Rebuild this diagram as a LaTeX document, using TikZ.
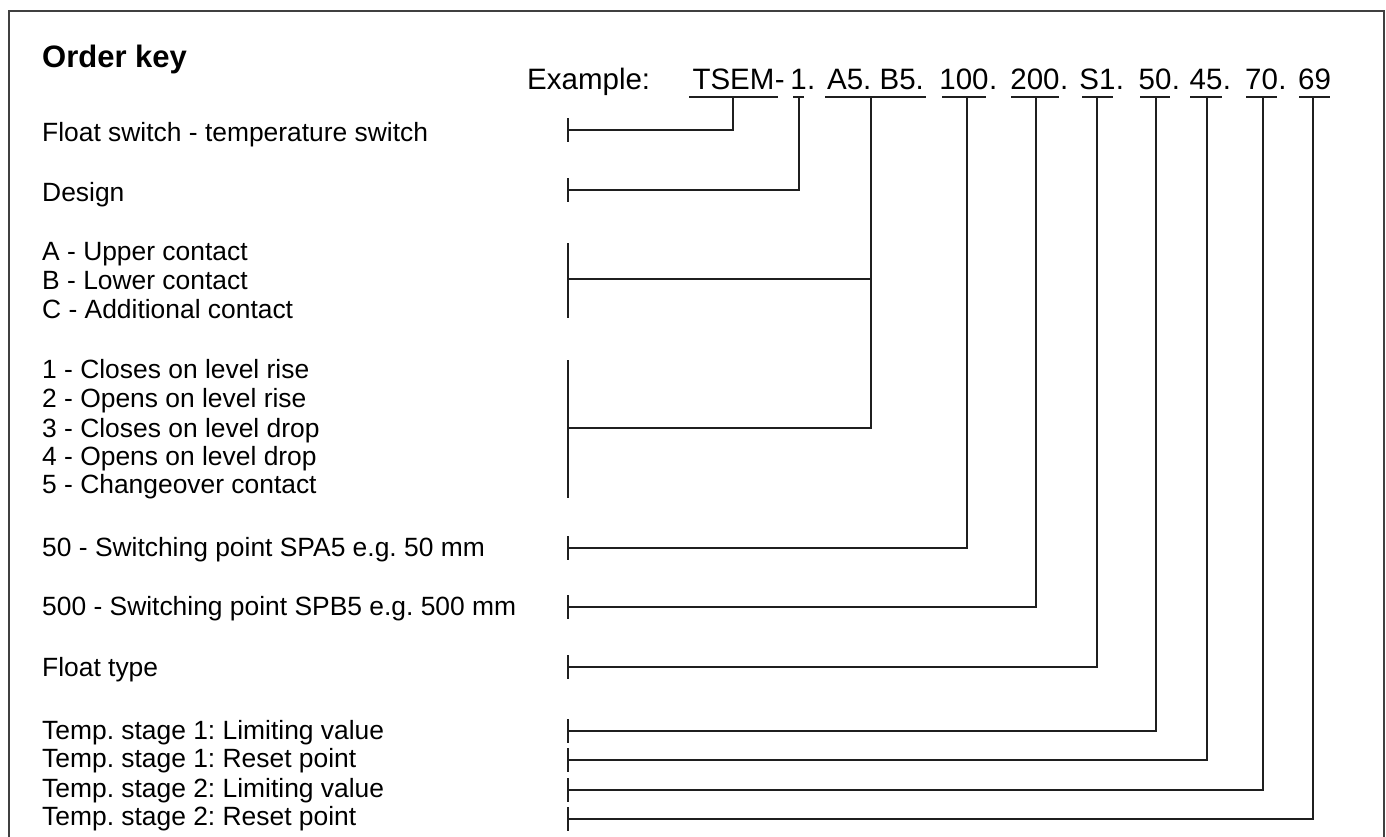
\documentclass[tikz,border=0pt]{standalone}
\usepackage{fontspec}
\setmainfont{Liberation Sans}
\usetikzlibrary{calc}
\begin{document}
\frenchspacing
\begin{tikzpicture}[x=1pt,y=-1pt,
  lbl/.style={anchor=base west, inner sep=0pt, font=\fontsize{26.4}{30}\selectfont},
  code/.style={anchor=base, inner sep=0pt, font=\fontsize{29.5}{34}\selectfont},
  sep/.style={anchor=base west, inner sep=0pt, font=\fontsize{29.5}{34}\selectfont},
  title/.style={anchor=base west, inner sep=0pt, font=\fontsize{31}{36}\selectfont\bfseries},
  conn/.style={line width=2pt, color=black!88},
  uline/.style={line width=2pt, color=black!88},
  frame/.style={line width=1.6pt, color=black!75}]
\useasboundingbox (0,0) rectangle (1386,836);
\draw[frame] (9,860) -- (9,11) -- (1384,11) -- (1384,860);

% title and example
\node[title] (title) at (42,67) {Order key};
\node[sep] (ex) at (527,89) {Example:};

% underline coordinates (left end, right end, connector point)
\foreach \t/\a/\b/\m in {tsem/689/778/733, one/793/804/799, ab/825/926/871,
  hun/942/986/967, two/1011/1059/1036, sone/1082/1113/1097, fifty/1140/1170/1156,
  ff/1190/1222/1207, seventy/1246/1277/1263, sn/1299/1330/1313}{
  \coordinate (\t-a) at (\a,97);
  \coordinate (\t-b) at (\b,97);
  \coordinate (\t-u) at (\m,97);
}

\node[code] (tsem) at ($(tsem-a)!0.5!(tsem-b)+(0,-8)$) {TSEM};
\node[sep] (dash) at (tsem.base east) {-};
\node[code] (one) at ($(one-a)!0.5!(one-b)+(0,-8)$) {1};
\node[sep] (p1) at (one.base east) {.};
\node[code] (ab) at ($(ab-a)!0.5!(ab-b)+(0,-8)$) {A5. B5.};
\node[code] (hun) at ($(hun-a)!0.5!(hun-b)+(0,-8)$) {100};
\node[sep] (p2) at (hun.base east) {.};
\node[code] (two) at ($(two-a)!0.5!(two-b)+(0,-8)$) {200};
\node[sep] (p3) at (two.base east) {.};
\node[code] (sone) at ($(sone-a)!0.5!(sone-b)+(0,-8)$) {S1};
\node[sep] (p4) at (sone.base east) {.};
\node[code] (fifty) at ($(fifty-a)!0.5!(fifty-b)+(0,-8)$) {50};
\node[sep] (p5) at (fifty.base east) {.};
\node[code] (ff) at ($(ff-a)!0.5!(ff-b)+(0,-8)$) {45};
\node[sep] (p6) at (ff.base east) {.};
\node[code] (seventy) at ($(seventy-a)!0.5!(seventy-b)+(0,-8)$) {70};
\node[sep] (p7) at (seventy.base east) {.};
\node[code] (sn) at ($(sn-a)!0.5!(sn-b)+(0,-8)$) {69};

\foreach \t in {tsem,one,ab,hun,two,sone,fifty,ff,seventy,sn}{
  \draw[uline] (\t-a) -- (\t-b);
}

% labels
\node[lbl] (l1) at (42,141) {Float switch - temperature switch};
\node[lbl] (l2) at (42,201) {Design};
\node[lbl] (l3a) at (42,260) {A - Upper contact};
\node[lbl] (l3b) at (42,289) {B - Lower contact};
\node[lbl] (l3c) at (42,318) {C - Additional contact};
\node[lbl] (l4a) at (42,378) {1 - Closes on level rise};
\node[lbl] (l4b) at (42,407) {2 - Opens on level rise};
\node[lbl] (l4c) at (42,437) {3 - Closes on level drop};
\node[lbl] (l4d) at (42,465) {4 - Opens on level drop};
\node[lbl] (l4e) at (42,493) {5 - Changeover contact};
\node[lbl] (l5) at (42,556) {50 - Switching point SPA5 e.g. 50 mm};
\node[lbl] (l6) at (42,615) {500 - Switching point SPB5 e.g. 500 mm};
\node[lbl] (l7) at (42,676) {Float type};
\node[lbl] (l8a) at (42,739) {Temp. stage 1: Limiting value};
\node[lbl] (l8b) at (42,767) {Temp. stage 1: Reset point};
\node[lbl] (l8c) at (42,797) {Temp. stage 2: Limiting value};
\node[lbl] (l8d) at (42,825) {Temp. stage 2: Reset point};

% tick coordinates
\coordinate (k1) at (568,130);
\coordinate (k2) at (568,190);
\coordinate (k3) at (568,279);
\coordinate (k4) at (568,428);
\coordinate (k5) at (568,548);
\coordinate (k6) at (568,607);
\coordinate (k7) at (568,667);
\coordinate (k8) at (568,731);
\coordinate (k9) at (568,760);
\coordinate (k10) at (568,790);
\coordinate (k11) at (568,819);

% ticks
\foreach \k in {k1,k2,k5,k6,k7,k8,k9,k10,k11}{
  \draw[conn] ([yshift=12pt]\k) -- ([yshift=-12pt]\k);
}
\draw[conn] (568,243) -- (568,318);
\draw[conn] (568,360) -- (568,498);

% connectors
\draw[conn] (tsem-u) |- (k1);
\draw[conn] (one-u) |- (k2);
\draw[conn] (ab-u) |- (k4);
\draw[conn] (ab-u |- k3) -- (k3);
\draw[conn] (hun-u) |- (k5);
\draw[conn] (two-u) |- (k6);
\draw[conn] (sone-u) |- (k7);
\draw[conn] (fifty-u) |- (k8);
\draw[conn] (ff-u) |- (k9);
\draw[conn] (seventy-u) |- (k10);
\draw[conn] (sn-u) |- (k11);
\end{tikzpicture}
\end{document}
